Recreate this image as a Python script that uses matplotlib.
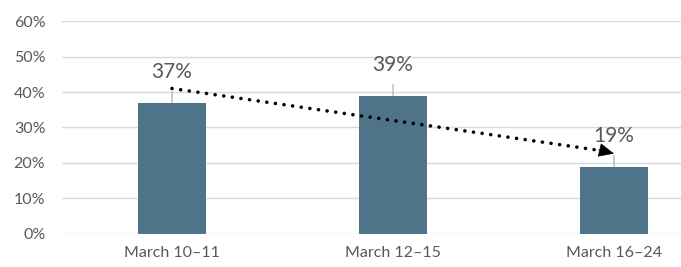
import matplotlib.pyplot as plt

# data
periode = ["March 10\u201311", "March 12\u201315", "March 16\u201324"]
nilai = [37, 39, 19]

# panah tren (posisi kategori, nilai %)
panah_x = [0, 1.99]
panah_y = [41, 22.8]

warna_bar = "#4E7489"
warna_teks = "#595959"
warna_grid = "#D9D9D9"

plt.rcParams["font.family"] = ["Lato", "DejaVu Sans"]

fig = plt.figure(figsize=(6.81, 2.67), dpi=100)
ax = fig.add_axes([0.091, 0.124, 0.909, 0.797])

x = list(range(len(periode)))
ax.bar(x, nilai, width=0.31, color=warna_bar, zorder=2)

# label data dengan garis penghubung
for xi, v in zip(x, nilai):
    ax.annotate(f"{v}%", xy=(xi, v), xytext=(0, 15), textcoords="offset points",
                ha="center", va="bottom", fontsize=15, color=warna_teks,
                arrowprops=dict(arrowstyle="-", color="#A6A6A6", lw=0.8,
                                shrinkA=5, shrinkB=0, relpos=(0.5, 0)),
                zorder=4)

# garis tren titik-titik dengan kepala panah
ax.plot([panah_x[0], panah_x[1] - 0.04], [panah_y[0], panah_y[1] + 0.6],
        linestyle=(0, (0.01, 2.4)), color="black", lw=2.6,
        dash_capstyle="round", zorder=3)
ax.annotate("", xy=(panah_x[1] + 0.01, panah_y[1] - 0.15),
            xytext=(panah_x[1] - 0.06, panah_y[1] + 0.9),
            arrowprops=dict(arrowstyle="-|>,head_length=1.0,head_width=0.45",
                            color="black", lw=0.5, shrinkA=0, shrinkB=0),
            zorder=3)

ax.set_ylim(0, 60)
ax.set_xlim(-0.498, 2.303)
ax.set_yticks(range(0, 61, 10))
ax.set_yticklabels([f"{t}%" for t in range(0, 61, 10)])
ax.set_xticks(x)
ax.set_xticklabels(periode)
ax.grid(axis="y", color=warna_grid, lw=1, zorder=0)
ax.tick_params(length=0, labelsize=11.5, colors=warna_teks, pad=9)
ax.tick_params(axis="y", pad=12)
for s in ax.spines.values():
    s.set_visible(False)

fig.savefig("out.png", dpi=100)
